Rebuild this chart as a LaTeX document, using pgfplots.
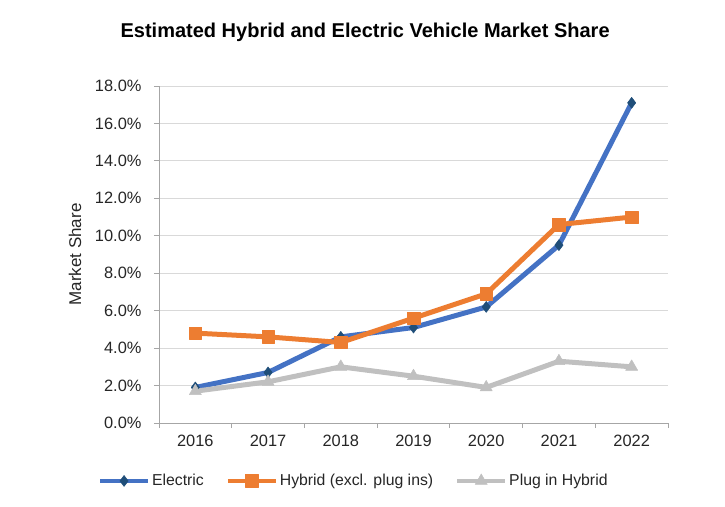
\documentclass[border=0pt]{standalone}
\usepackage{fontspec}
\setmainfont{Liberation Sans}
\usepackage{pgfplots}
\pgfplotsset{compat=1.18}
\definecolor{elec}{HTML}{4472C4}
\definecolor{elecmark}{HTML}{1F4E79}
\definecolor{hyb}{HTML}{ED7D31}
\definecolor{plug}{HTML}{C0C0C0}
\definecolor{gridc}{HTML}{D9D9D9}
\definecolor{axc}{HTML}{A6A6A6}

\begin{document}
\begin{tikzpicture}
\path[use as bounding box] (-159pt,-83pt) rectangle (566pt,423pt);
\begin{axis}[
  scale only axis, width=509pt, height=337pt,
  xmin=-0.5, xmax=6.5, ymin=0, ymax=18,
  axis x line*=bottom, axis y line*=left,
  axis line style={draw=axc, line width=0.8pt, -},
  tick align=outside, major tick length=5pt,
  tick style={draw=axc, line width=0.8pt},
  xtick={-0.5,0.5,...,6.5}, xticklabels={},
  extra x ticks={0,1,2,3,4,5,6},
  extra x tick labels={2016,2017,2018,2019,2020,2021,2022},
  extra x tick style={major tick length=0pt, xticklabel style={yshift=-9pt}},
  ytick={0,2,...,18},
  ymajorgrids, grid style={draw=gridc, line width=0.8pt},
  ticklabel style={font=\fontsize{16.4}{19}\selectfont, text=black!85},
  /pgf/number format/assume math mode=true,
  yticklabel={\pgfmathprintnumber[fixed,fixed zerofill,precision=1]{\tick}\%},
  yticklabel style={xshift=-9pt},
  ylabel={Market Share},
  ylabel style={font=\fontsize{17}{20}\selectfont, text=black!85, at={(axis description cs:-0.165,0.5)}, anchor=center},
  title={Estimated Hybrid and Electric Vehicle Market Share},
  title style={font=\bfseries\fontsize{20}{24}\selectfont, at={(0.405,1.142)}, anchor=center},
  legend columns=3,
  legend style={at={(-0.126,-0.172)}, anchor=west, draw=none, fill=none,
    font=\fontsize{15.8}{19}\selectfont, text=black!85,
    /tikz/every even column/.append style={column sep=20pt}},
  legend image code/.code={\draw[mark repeat=2,mark phase=2,#1,line width=4pt] plot coordinates {(0pt,0pt) (24pt,0pt) (48pt,0pt)};},
  every axis plot/.append style={line join=round},
]
\addplot[elec, line width=5pt, mark=diamond*, mark size=5.5pt,
  mark options={fill=elecmark, draw=elecmark, line width=0.5pt}]
  coordinates {(0,1.9) (1,2.7) (2,4.6) (3,5.1) (4,6.2) (5,9.5) (6,17.1)};
\addlegendentry{Electric}
\addplot[hyb, line width=5pt, mark=square*, mark size=6.25pt,
  mark options={fill=hyb, draw=hyb, line width=0.5pt}]
  coordinates {(0,4.8) (1,4.6) (2,4.3) (3,5.6) (4,6.9) (5,10.6) (6,11.0)};
\addlegendentry{Hybrid (excl. plug ins)}
\addplot[plug, line width=5pt, mark=triangle*, mark size=7pt,
  mark options={fill=plug, draw=plug, line width=0.5pt}]
  coordinates {(0,1.7) (1,2.2) (2,3.0) (3,2.5) (4,1.9) (5,3.3) (6,3.0)};
\addlegendentry{Plug in Hybrid}
\end{axis}
\end{tikzpicture}
\end{document}
